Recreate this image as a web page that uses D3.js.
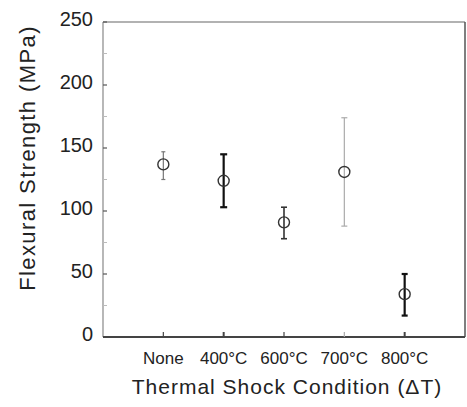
<!DOCTYPE html>
<html>
<head>
<meta charset="utf-8">
<script src="https://cdn.jsdelivr.net/npm/d3@7"></script>
<style>
html,body{margin:0;padding:0;background:#fff;}
svg{display:block;}
text{font-family:"Liberation Sans",Arial,Helvetica,sans-serif;}
</style>
</head>
<body>
<svg id="chart" width="467" height="407"></svg>
<script>
// Data
const categories = ["None", "400°C", "600°C", "700°C", "800°C"];
const strength = [137, 124, 91, 131, 34];
const errHigh = [147, 145, 103, 174, 50];
const errLow = [125, 103, 78, 88, 17];
const yTicks = [0, 50, 100, 150, 200, 250];
const yMinorTicks = [25, 75, 125, 175, 225];

// Per-category styling of error bars (visual only)
const barStyle = [
  {color: "#777", width: 1.2, cap: 4},
  {color: "#111", width: 2.2, cap: 7},
  {color: "#333", width: 1.6, cap: 6},
  {color: "#aaa", width: 1.2, cap: 6},
  {color: "#111", width: 2.2, cap: 6}
];

const svg = d3.select("#chart");
const pLeft = 103, pRight = 465, pTop = 22, pBottom = 337;

const x = d3.scaleLinear().domain([-1, categories.length]).range([pLeft, pRight]);
const y = d3.scaleLinear().domain([0, 250]).range([pBottom, pTop]);

// Frame
svg.append("line").attr("x1", pLeft).attr("x2", pRight).attr("y1", pTop).attr("y2", pTop)
  .attr("stroke", "#999").attr("stroke-width", 1.5);
svg.append("line").attr("x1", pRight).attr("x2", pRight).attr("y1", pTop).attr("y2", pBottom)
  .attr("stroke", "#555").attr("stroke-width", 1.5);
svg.append("line").attr("x1", pLeft).attr("x2", pLeft).attr("y1", pTop).attr("y2", pBottom)
  .attr("stroke", "#888").attr("stroke-width", 1.2);

// Y axis ticks (inward)
const yAxis = svg.append("g").attr("transform", `translate(${pLeft},0)`);
yAxis.selectAll("line.major").data(yTicks).join("line")
  .attr("class", "major")
  .attr("x1", 0).attr("x2", 4)
  .attr("y1", d => y(d)).attr("y2", d => y(d))
  .attr("stroke", "#555").attr("stroke-width", 1.2);
yAxis.selectAll("line.minor").data(yMinorTicks).join("line")
  .attr("class", "minor")
  .attr("x1", 0).attr("x2", 4)
  .attr("y1", d => y(d)).attr("y2", d => y(d))
  .attr("stroke", "#bbb").attr("stroke-width", 1);
yAxis.selectAll("text").data(yTicks).join("text")
  .attr("x", -10).attr("y", d => y(d) + 4)
  .attr("text-anchor", "end")
  .attr("font-size", 20)
  .attr("fill", "#222")
  .text(d => d);

// X axis
const xAxis = svg.append("g");
xAxis.append("line").attr("x1", pLeft).attr("x2", pRight).attr("y1", pBottom).attr("y2", pBottom)
  .attr("stroke", "#444").attr("stroke-width", 2);
xAxis.selectAll("line.tick").data(categories).join("line")
  .attr("class", "tick")
  .attr("x1", (d, i) => x(i)).attr("x2", (d, i) => x(i))
  .attr("y1", pBottom).attr("y2", pBottom - 5)
  .attr("stroke", (d, i) => barStyle[i].color === "#aaa" ? "#aaa" : "#444")
  .attr("stroke-width", (d, i) => barStyle[i].width > 2 ? 2 : 1.2);
xAxis.selectAll("text").data(categories).join("text")
  .attr("x", (d, i) => x(i)).attr("y", 364)
  .attr("text-anchor", "middle")
  .attr("font-size", 17)
  .attr("fill", "#222")
  .text(d => d);

// Axis titles
svg.append("text")
  .attr("x", 287).attr("y", 394)
  .attr("text-anchor", "middle")
  .attr("font-size", 21)
  .attr("letter-spacing", "1px")
  .attr("fill", "#222")
  .text("Thermal Shock Condition (ΔT)");
svg.append("text")
  .attr("transform", "translate(35,158) rotate(-90)")
  .attr("text-anchor", "middle")
  .attr("font-size", 22)
  .attr("letter-spacing", "1.4px")
  .attr("fill", "#222")
  .text("Flexural Strength (MPa)");

// Error bars
const eb = svg.append("g");
categories.forEach((c, i) => {
  const s = barStyle[i];
  const g = eb.append("g");
  g.append("line").attr("x1", x(i)).attr("x2", x(i))
    .attr("y1", y(errLow[i])).attr("y2", y(errHigh[i]))
    .attr("stroke", s.color).attr("stroke-width", s.width);
  [errLow[i], errHigh[i]].forEach(v => {
    g.append("line").attr("x1", x(i) - s.cap / 2).attr("x2", x(i) + s.cap / 2)
      .attr("y1", y(v)).attr("y2", y(v))
      .attr("stroke", s.color).attr("stroke-width", s.width);
  });
});

// Points
svg.append("g").selectAll("circle").data(strength).join("circle")
  .attr("cx", (d, i) => x(i)).attr("cy", d => y(d))
  .attr("r", 5.5)
  .attr("fill", "none")
  .attr("stroke", "#333").attr("stroke-width", 1.4);
</script>
</body>
</html>
